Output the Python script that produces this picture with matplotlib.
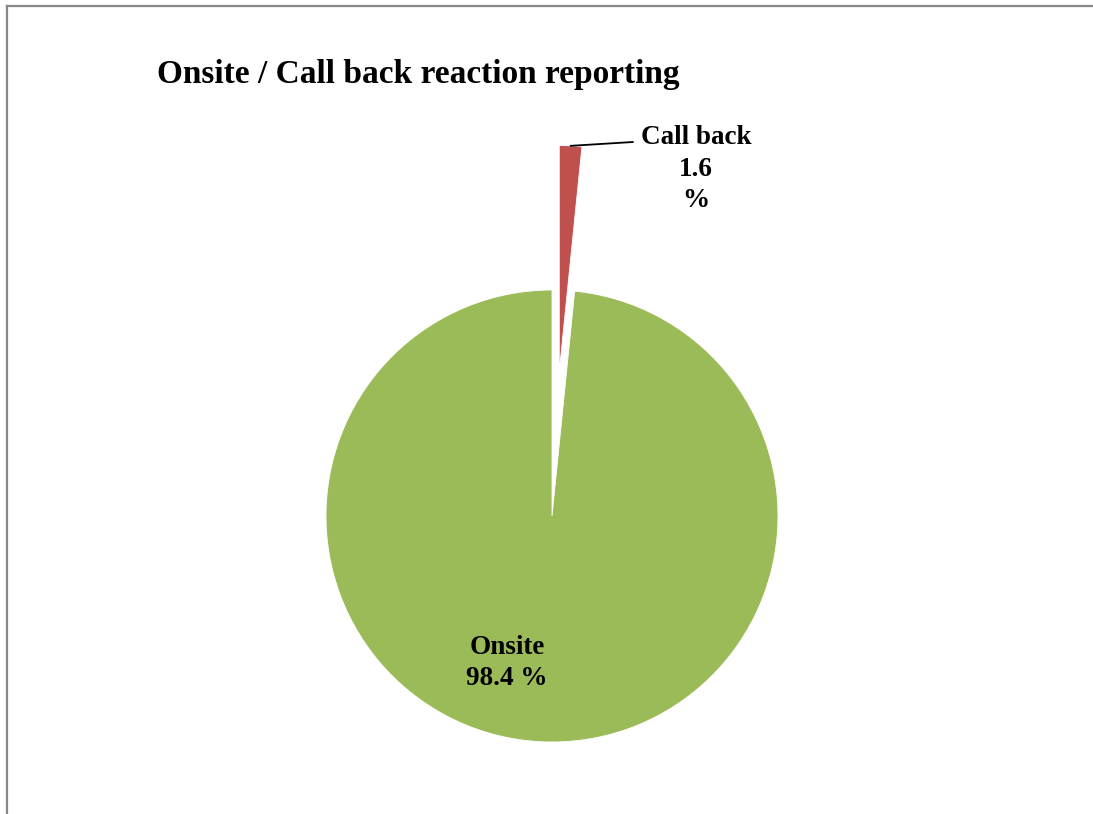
import numpy as np
import matplotlib
matplotlib.use("Agg")
import matplotlib.pyplot as plt
from matplotlib.lines import Line2D

# data
labels = ["Call back", "Onsite"]
shares = [1.6, 98.4]
colors = ["#C0504D", "#9BBB59"]
explode_frac = [0.64, 0.0]
title = "Onsite / Call back reaction reporting"

plt.rcParams['font.family'] = ['Liberation Serif', 'DejaVu Serif']

W, H = 1093, 814
fig = plt.figure(figsize=(W / 100, H / 100), dpi=100)
ax = fig.add_axes([0, 0, 1, 1])

# pie placed in pixel units (y up)
cx, cy, r = 552, H - 516, 226
wedges, _ = ax.pie(shares, colors=colors,
                   explode=[e * r for e in explode_frac], startangle=90,
                   counterclock=False, center=(cx, cy), radius=r,
                   wedgeprops=dict(edgecolor="white", linewidth=0.6))
ax.set_xlim(0, W)
ax.set_ylim(0, H)
ax.set_aspect("equal")
ax.axis("off")

# label for the small exploded slice with leader line
w = wedges[0]
mid = np.deg2rad((w.theta1 + w.theta2) / 2)
tip = (w.center[0] + r * np.cos(mid), w.center[1] + r * np.sin(mid))
ax.annotate("", xy=tip, xytext=(cx + 81, cy + 374),
            arrowprops=dict(arrowstyle="-", color="black", lw=1.3,
                            shrinkA=0, shrinkB=0))
ax.text(cx + 144, cy + 347, f"{labels[0]}\n{shares[0]}\n%",
        ha="center", va="center", fontsize=19.5, fontweight="bold",
        linespacing=1.35)

# label inside the big slice
ax.text(cx - 45, cy - 147, f"{labels[1]}\n{shares[1]} %", ha="center",
        va="center", fontsize=19.5, fontweight="bold", linespacing=1.35)

fig.text(157 / W, 1 - 83 / H, title, ha="left", va="baseline",
         fontsize=24, fontweight="bold")

# chart frame (top and left edges visible)
fig.add_artist(Line2D([6.5 / W, 1], [1 - 5.5 / H, 1 - 5.5 / H],
                      color="#888888", lw=1.6))
fig.add_artist(Line2D([6.5 / W, 6.5 / W], [0, 1 - 5.5 / H],
                      color="#888888", lw=1.6))

fig.savefig("out.png", dpi=100, facecolor="white")
